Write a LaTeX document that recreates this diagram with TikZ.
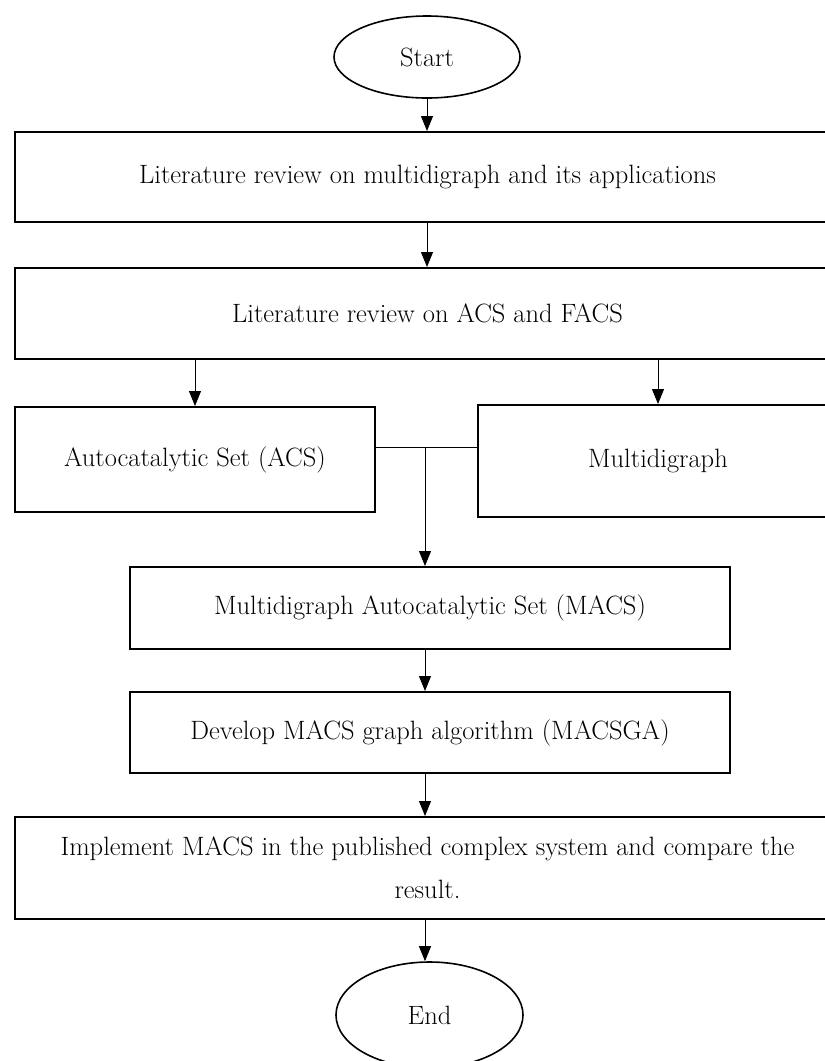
\documentclass[tikz,border=0pt]{standalone}
\usetikzlibrary{arrows.meta,shapes.geometric}
\begin{document}
\begin{tikzpicture}[x=1pt,y=-1pt,
  box/.style={draw,line width=2pt,rectangle,inner sep=0pt,font=\fontsize{26.5}{43}\selectfont},
  term/.style={draw,line width=1.6pt,ellipse,inner sep=0pt,font=\fontsize{26.5}{30}\selectfont},
  arr/.style={line width=1pt,-{Triangle[length=15pt,width=12pt]}},
  conn/.style={line width=1pt}]
\useasboundingbox (0,0) rectangle (825,1061);
\clip (0,0) rectangle (825,1061);
\fill[white] (0,0) rectangle (825,1061);
\node[term,minimum width=186pt,minimum height=82pt] (start) at (427,57) {Start};
\node[box,minimum width=825pt,minimum height=90pt] (lit1) at (427.5,177) {Literature review on multidigraph and its applications};
\node[box,minimum width=825pt,minimum height=91pt] (lit2) at (427.5,313.5) {Literature review on ACS and FACS};
\node[box,minimum width=360pt,minimum height=105pt] (acs) at (195,459.5) {Autocatalytic Set (ACS)};
\node[box,minimum width=360pt,minimum height=112pt] (multi) at (658,461) {Multidigraph};
\node[box,minimum width=600pt,minimum height=82pt] (macs) at (430,608) {Multidigraph Autocatalytic Set (MACS)};
\node[box,minimum width=600pt,minimum height=81pt] (dev) at (430,732.5) {Develop MACS graph algorithm (MACSGA)};
\node[box,minimum width=825pt,minimum height=102pt,align=center] (impl) at (427.5,868) {Implement MACS in the published complex system and compare the\\result.};
\node[term,minimum width=187pt,minimum height=106pt] (end) at (429.5,1015) {End};
\coordinate (j) at (425,447);
\draw[arr] (start.south) -- (lit1.north -| start.south);
\draw[arr] (lit1.south -| start.south) -- (lit2.north -| start.south);
\draw[arr] (lit2.south -| acs.north) -- (acs.north);
\draw[arr] (lit2.south -| multi.north) -- (multi.north);
\draw[conn] (acs.east |- j) -- (multi.west |- j);
\draw[arr] (j) -- (macs.north -| j);
\draw[arr] (macs.south -| j) -- (dev.north -| j);
\draw[arr] (dev.south -| j) -- (impl.north -| j);
\draw[arr] (impl.south -| j) -- (end.north -| j);
\end{tikzpicture}
\end{document}
